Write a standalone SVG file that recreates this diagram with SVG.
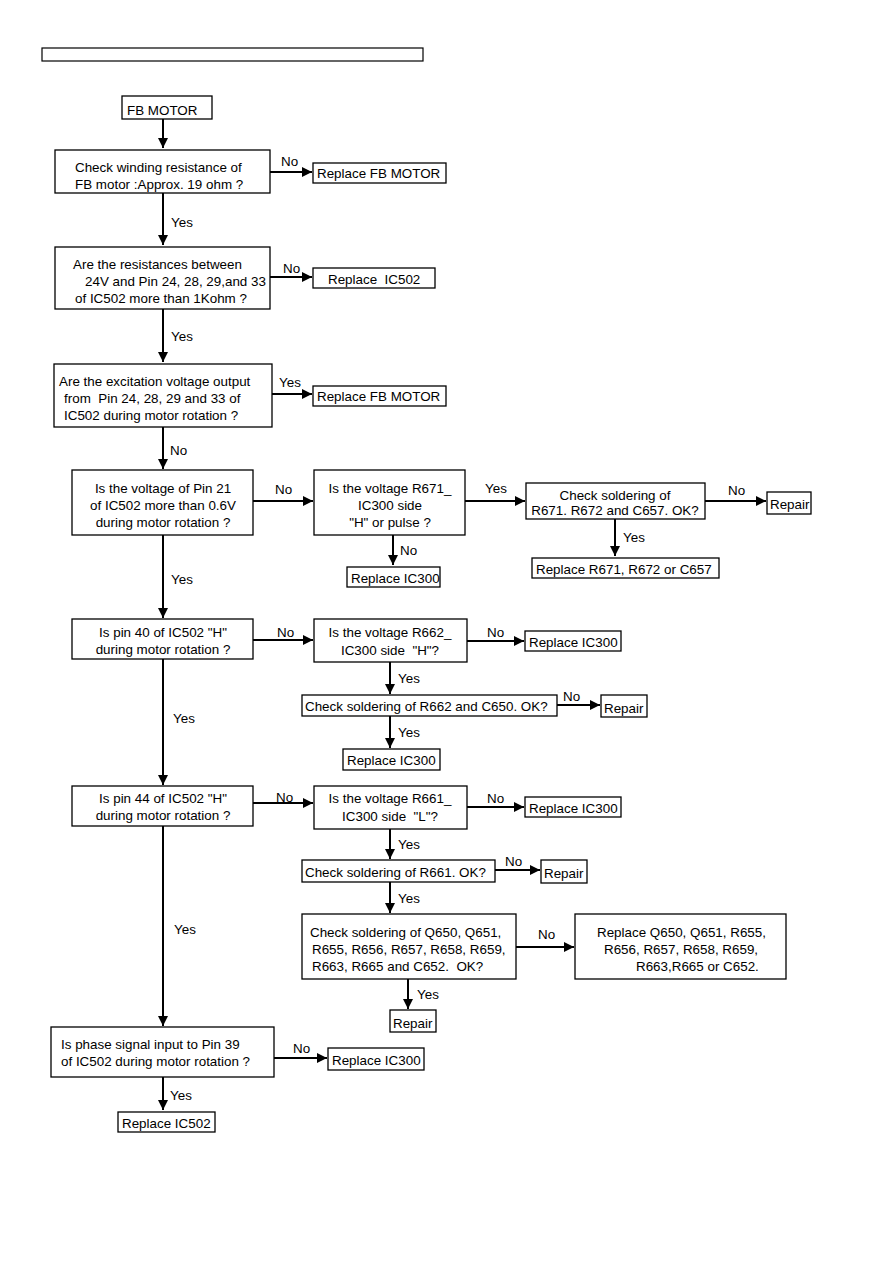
<svg xmlns="http://www.w3.org/2000/svg" width="893" height="1263" viewBox="0 0 893 1263">
<defs>
<marker id="ah" viewBox="0 0 10 10" refX="10" refY="5" markerWidth="5" markerHeight="5" orient="auto" markerUnits="strokeWidth"><path d="M0,0 L10,5 L0,10 z" fill="#000"/></marker>
<style>
.b{fill:#fff;stroke:#000;stroke-width:1.3}
text{font-family:"Liberation Sans",Arial,sans-serif;font-size:13.4px;fill:#000;white-space:pre}
.c{text-anchor:middle}
.l{fill:none;stroke:#000;stroke-width:2}
.a{fill:none;stroke:#000;stroke-width:2;marker-end:url(#ah)}
</style>
</defs>
<rect width="893" height="1263" fill="#fff"/>
<rect x="42" y="48" width="381" height="13" fill="#fff" stroke="#000" stroke-width="1.2"/>

<g id="connectors">
<path class="a" d="M163,119 V148"/>
<path class="a" d="M270,172 H312"/>
<path class="a" d="M163,193 V245"/>
<path class="a" d="M270,277 H312"/>
<path class="a" d="M163,309 V362"/>
<path class="a" d="M272,394 H312"/>
<path class="a" d="M163,427 V469"/>
<path class="a" d="M253,501 H313"/>
<path class="a" d="M393,535 V565"/>
<path class="a" d="M465,501 H525"/>
<path class="a" d="M705,501 H766"/>
<path class="a" d="M615,519 V556"/>
<path class="a" d="M163,535 V618"/>
<path class="a" d="M253,640 H313"/>
<path class="a" d="M467,641 H524"/>
<path class="a" d="M390,662 V694"/>
<path class="a" d="M557,705 H600"/>
<path class="a" d="M390,716 V748"/>
<path class="a" d="M163,659 V785"/>
<path class="a" d="M253,803 H313"/>
<path class="a" d="M467,807 H524"/>
<path class="a" d="M390,829 V859"/>
<path class="a" d="M495,870 H540"/>
<path class="a" d="M390,882 V913"/>
<path class="a" d="M516,947 H574"/>
<path class="a" d="M408,979 V1009"/>
<path class="a" d="M163,826 V1026"/>
<path class="a" d="M274,1058 H327"/>
<path class="a" d="M163,1077 V1110"/>
<text x="281" y="166">No</text>
<text x="171" y="227">Yes</text>
<text x="283" y="273">No</text>
<text x="171" y="341">Yes</text>
<text x="279" y="387">Yes</text>
<text x="170" y="455">No</text>
<text x="275" y="494">No</text>
<text x="400" y="555">No</text>
<text x="485" y="493">Yes</text>
<text x="728" y="495">No</text>
<text x="623" y="542">Yes</text>
<text x="171" y="584">Yes</text>
<text x="277" y="637">No</text>
<text x="487" y="637">No</text>
<text x="398" y="683">Yes</text>
<text x="563" y="701">No</text>
<text x="398" y="737">Yes</text>
<text x="173" y="723">Yes</text>
<text x="276" y="802">No</text>
<text x="487" y="803">No</text>
<text x="398" y="849">Yes</text>
<text x="505" y="866">No</text>
<text x="398" y="903">Yes</text>
<text x="538" y="939">No</text>
<text x="417" y="999">Yes</text>
<text x="174" y="934">Yes</text>
<text x="293" y="1053">No</text>
<text x="170" y="1100">Yes</text>
</g>

<g id="start"><rect class="b" x="122" y="96" width="90" height="23"/><text x="127" y="115">FB MOTOR</text></g>

<g id="q1"><rect class="b" x="55" y="150" width="215" height="43"/>
<text x="75" y="172">Check winding resistance of</text>
<text x="75" y="189">FB motor :Approx. 19 ohm ?</text></g>
<g id="r1"><rect class="b" x="313" y="163" width="133" height="20"/><text x="317" y="178">Replace FB MOTOR</text></g>

<g id="q2"><rect class="b" x="55" y="247" width="215" height="62"/>
<text x="73" y="269">Are the resistances between</text>
<text x="85" y="286">24V and Pin 24, 28, 29,and 33</text>
<text x="75" y="303">of IC502 more than 1Kohm ?</text></g>
<g id="r2"><rect class="b" x="313" y="268" width="122" height="20"/><text x="328" y="284">Replace  IC502</text></g>

<g id="q3"><rect class="b" x="54" y="364" width="218" height="63"/>
<text x="59" y="386">Are the excitation voltage output</text>
<text x="64" y="403">from  Pin 24, 28, 29 and 33 of</text>
<text x="64" y="420">IC502 during motor rotation ?</text></g>
<g id="r3"><rect class="b" x="313" y="386" width="133" height="20"/><text x="317" y="401">Replace FB MOTOR</text></g>

<g id="q4"><rect class="b" x="72" y="470" width="181" height="65"/>
<text class="c" x="163" y="493">Is the voltage of Pin 21</text>
<text class="c" x="163" y="510">of IC502 more than 0.6V</text>
<text class="c" x="163" y="527">during motor rotation ?</text></g>
<g id="q5"><rect class="b" x="314" y="470" width="151" height="65"/>
<text class="c" x="390" y="493">Is the voltage R671_</text>
<text class="c" x="390" y="510">IC300 side</text>
<text class="c" x="390" y="527">"H" or pulse ?</text></g>
<g id="r5"><rect class="b" x="347" y="567" width="93" height="20"/><text x="351" y="583">Replace IC300</text></g>
<g id="q6"><rect class="b" x="526" y="483" width="179" height="36"/>
<text class="c" x="615" y="500">Check soldering of</text>
<text class="c" x="615" y="515">R671. R672 and C657. OK?</text></g>
<g id="r6a"><rect class="b" x="767" y="492" width="44" height="22"/><text x="770" y="509">Repair</text></g>
<g id="r6b"><rect class="b" x="532" y="558" width="187" height="20"/><text x="536" y="574">Replace R671, R672 or C657</text></g>

<g id="q7"><rect class="b" x="72" y="619" width="181" height="40"/>
<text class="c" x="163" y="637">Is pin 40 of IC502 "H"</text>
<text class="c" x="163" y="654">during motor rotation ?</text></g>
<g id="q8"><rect class="b" x="314" y="619" width="153" height="43"/>
<text class="c" x="390" y="637">Is the voltage R662_</text>
<text class="c" x="390" y="655">IC300 side  "H"?</text></g>
<g id="r8"><rect class="b" x="525" y="631" width="96" height="20"/><text x="529" y="647">Replace IC300</text></g>
<g id="q9"><rect class="b" x="302" y="695" width="255" height="21"/>
<text x="305" y="711">Check soldering of R662 and C650. OK?</text></g>
<g id="r9a"><rect class="b" x="601" y="695" width="46" height="22"/><text x="604" y="713">Repair</text></g>
<g id="r9b"><rect class="b" x="343" y="749" width="97" height="21"/><text x="347" y="765">Replace IC300</text></g>

<g id="q10"><rect class="b" x="72" y="786" width="181" height="40"/>
<text class="c" x="163" y="803">Is pin 44 of IC502 "H"</text>
<text class="c" x="163" y="820">during motor rotation ?</text></g>
<g id="q11"><rect class="b" x="314" y="786" width="153" height="43"/>
<text class="c" x="390" y="803">Is the voltage R661_</text>
<text class="c" x="390" y="821">IC300 side  "L"?</text></g>
<g id="r11"><rect class="b" x="525" y="797" width="96" height="20"/><text x="529" y="813">Replace IC300</text></g>
<g id="q12"><rect class="b" x="302" y="860" width="193" height="22"/>
<text x="305" y="877">Check soldering of R661. OK?</text></g>
<g id="r12"><rect class="b" x="541" y="860" width="46" height="23"/><text x="544" y="878">Repair</text></g>
<g id="q13"><rect class="b" x="302" y="914" width="214" height="65"/>
<text x="310" y="937">Check soldering of Q650, Q651,</text>
<text x="312" y="954">R655, R656, R657, R658, R659,</text>
<text x="312" y="971">R663, R665 and C652.  OK?</text></g>
<g id="r13"><rect class="b" x="575" y="914" width="211" height="65"/>
<text x="597" y="937">Replace Q650, Q651, R655,</text>
<text x="604" y="954">R656, R657, R658, R659,</text>
<text x="636" y="971">R663,R665 or C652.</text></g>
<g id="r13b"><rect class="b" x="390" y="1010" width="46" height="22"/><text x="393" y="1028">Repair</text></g>

<g id="q14"><rect class="b" x="51" y="1027" width="223" height="50"/>
<text x="61" y="1049">Is phase signal input to Pin 39</text>
<text x="61" y="1066">of IC502 during motor rotation ?</text></g>
<g id="r14"><rect class="b" x="328" y="1048" width="96" height="22"/><text x="332" y="1065">Replace IC300</text></g>
<g id="r15"><rect class="b" x="118" y="1112" width="97" height="20"/><text x="122" y="1128">Replace IC502</text></g>
</svg>
